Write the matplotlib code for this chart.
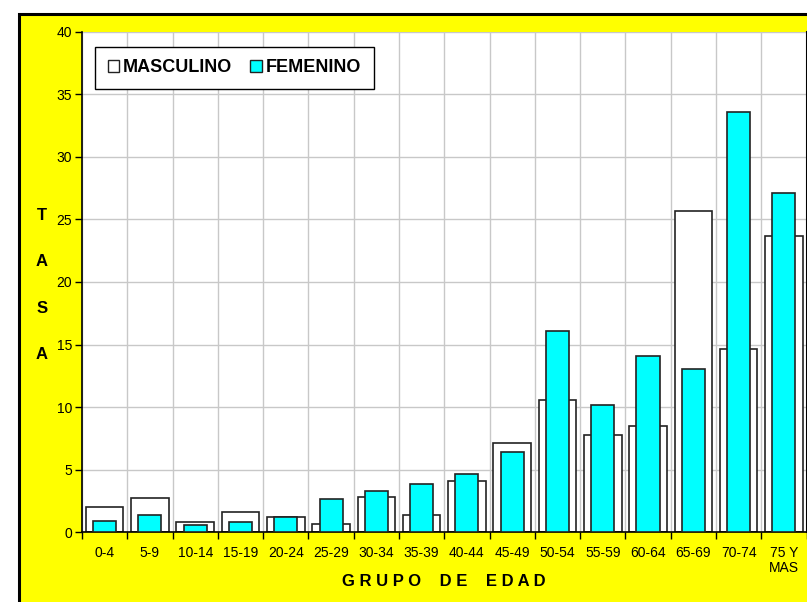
import matplotlib
matplotlib.use("Agg")
import matplotlib.pyplot as plt
from matplotlib.patches import Rectangle, Patch
import numpy as np

plt.rcParams['font.family'] = ['Liberation Sans', 'DejaVu Sans']

categories = ["0-4", "5-9", "10-14", "15-19", "20-24", "25-29", "30-34", "35-39",
              "40-44", "45-49", "50-54", "55-59", "60-64", "65-69", "70-74", "75 Y\nMAS"]
masculino = [2.0, 2.72, 0.8, 1.65, 1.25, 0.69, 2.8, 1.41,
             4.08, 7.12, 10.58, 7.78, 8.48, 25.65, 14.64, 23.7]
femenino = [0.88, 1.38, 0.56, 0.82, 1.22, 2.64, 3.33, 3.89,
            4.69, 6.42, 16.1, 10.21, 14.1, 13.04, 33.57, 27.12]
yticks = [0, 5, 10, 15, 20, 25, 30, 35, 40]

W, H = 807, 602
fig = plt.figure(figsize=(W / 100, H / 100), dpi=100)
fig.patch.set_facecolor("white")

# yellow chart frame (extends past the right and bottom edges)
frame = Rectangle((19 / W, -0.05), 1.1, 1 - 13.5 / H + 0.05, transform=fig.transFigure,
                  facecolor="#FFFF00", edgecolor="black", linewidth=2.2, zorder=-5)
fig.patches.append(frame)

left, right, top, bottom = 82 / W, 806.5 / W, 1 - 31.7 / H, 1 - 532.3 / H
ax = fig.add_axes([left, bottom, right - left, top - bottom])
ax.set_zorder(2)
ax.set_facecolor("white")

x = np.arange(len(categories))
ax.bar(x, masculino, width=0.83, color="white", edgecolor="#222222", linewidth=1.2, zorder=2)
ax.bar(x, femenino, width=0.51, color="#00FFFF", edgecolor="#222222", linewidth=1.2, zorder=3)

ax.set_xlim(-0.5, len(categories) - 0.5)
ax.set_ylim(0, 40)
ax.set_yticks(yticks)
ax.set_yticklabels([str(v) for v in yticks], fontsize=10)

ax.set_xticks(x)
ax.set_xticklabels(categories, fontsize=10, linespacing=1.1)
ax.set_xticks(np.arange(len(categories) + 1) - 0.5, minor=True)
ax.tick_params(axis="x", which="major", length=0, pad=10)
ax.tick_params(axis="x", which="minor", length=5, width=1, color="black", direction="out")
ax.tick_params(axis="y", length=5, width=1, color="black", direction="out", pad=2)

ax.grid(True, which="minor", axis="x", color="#c8c8c8", linewidth=1.0, zorder=0)
ax.grid(True, which="major", axis="y", color="#c8c8c8", linewidth=1.0, zorder=0)
ax.set_axisbelow(True)

for s in ["left", "bottom"]:
    ax.spines[s].set_color("black")
    ax.spines[s].set_linewidth(1.2)
ax.spines["top"].set_visible(False)
ax.spines["right"].set_color("black")
ax.spines["right"].set_linewidth(1.5)

handles = [Patch(facecolor="white", edgecolor="#222222", linewidth=1.0, label="MASCULINO"),
           Patch(facecolor="#00FFFF", edgecolor="#222222", linewidth=1.0, label="FEMENINO")]
leg = ax.legend(handles=handles, loc="upper left", bbox_to_anchor=(0.018, 0.970), ncol=2,
                frameon=True, fancybox=False, framealpha=1, edgecolor="black",
                prop={"weight": "bold", "size": 13}, handlelength=0.65, handleheight=0.65,
                handletextpad=0.2, columnspacing=1.0, borderpad=0.7, borderaxespad=0)
leg.get_frame().set_linewidth(1.0)

fig.text(443.5 / W, 1 - 581.7 / H, "G R U P O    D E    E D A D", ha="center", va="center",
         fontsize=12, fontweight="bold")
fig.text(41.7 / W, 1 - 285 / H, "T\nA\nS\nA", ha="center", va="center",
         fontsize=12, fontweight="bold", linespacing=3.6)

fig.savefig("out.png", dpi=100, facecolor=fig.get_facecolor())
